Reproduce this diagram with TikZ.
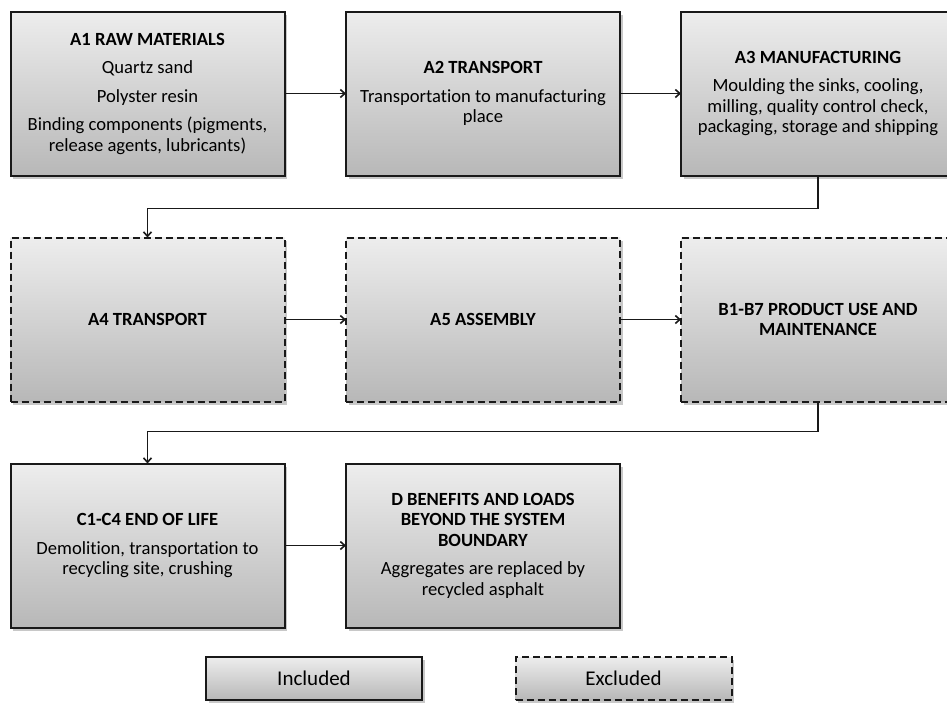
\documentclass[tikz,border=0pt]{standalone}
\usepackage{fontspec}
\setmainfont{Carlito}[RawFeature={-liga;-clig}]
\usetikzlibrary{shadows,arrows.meta}
\begin{document}
\begin{tikzpicture}[x=1pt,y=-1pt,
  box/.style={draw=black!90, line width=2pt, rectangle, inner sep=0pt, outer sep=0pt,
    top color=white!93!black, bottom color=white!72!black,
    drop shadow={shadow xshift=2.5pt, shadow yshift=-3pt, opacity=0.3, fill=black!70},
    minimum width=274pt, minimum height=164pt, align=center,
    font=\fontsize{18.6}{20.5}\selectfont},
  incl/.style={box},
  excl/.style={box, dash pattern=on 7pt off 4pt},
  arr/.style={line width=1.6pt, draw=black!90, -{Straight Barb[length=4.5pt,width=8pt,line width=1.6pt]}},
  legend/.style={minimum width=216pt, minimum height=43pt, font=\fontsize{21}{24}\selectfont}
]
\useasboundingbox (0,0) rectangle (947,702);
\fill[white] (0,0) rectangle (947,702);

\node[incl] (A1) at (147.5,93.5) {\textbf{A1 RAW MATERIALS}\\[8pt]Quartz sand\\[8pt]Polyster resin\\[8pt]Binding components (pigments,\\release agents, lubricants)};
\node[incl] (A2) at (483,93.5) {\textbf{A2 TRANSPORT}\\[8pt]Transportation to manufacturing\\place};
\node[incl] (A3) at (818,93.5) {\textbf{A3 MANUFACTURING}\\[8pt]Moulding the sinks, cooling,\\milling, quality control check,\\packaging, storage and shipping};

\node[excl] (A4) at (147.5,319.5) {\textbf{A4 TRANSPORT}};
\node[excl] (A5) at (483,319.5) {\textbf{A5 ASSEMBLY}};
\node[excl] (B) at (818,319.5) {\textbf{B1-B7 PRODUCT USE AND}\\\textbf{MAINTENANCE}};

\node[incl] (C) at (147.5,545.5) {\textbf{C1-C4 END OF LIFE}\\[8pt]Demolition, transportation to\\recycling site, crushing};
\node[incl] (D) at (483,545.5) {\textbf{D BENEFITS AND LOADS}\\\textbf{BEYOND THE SYSTEM}\\\textbf{BOUNDARY}\\[8pt]Aggregates are replaced by\\recycled asphalt};

\node[incl, legend] (inc) at (314,678.5) {Included};
\node[excl, legend] (exc) at (623.5,678.5) {Excluded};

\draw[arr] (A1.east) -- (A2.west);
\draw[arr] (A2.east) -- (A3.west);
\draw[arr] (A3.south) -- ++(0,33) -| (A4.north);
\draw[arr] (A4.east) -- (A5.west);
\draw[arr] (A5.east) -- (B.west);
\draw[arr] (B.south) -- ++(0,30) -| (C.north);
\draw[arr] (C.east) -- (D.west);
\end{tikzpicture}
\end{document}
